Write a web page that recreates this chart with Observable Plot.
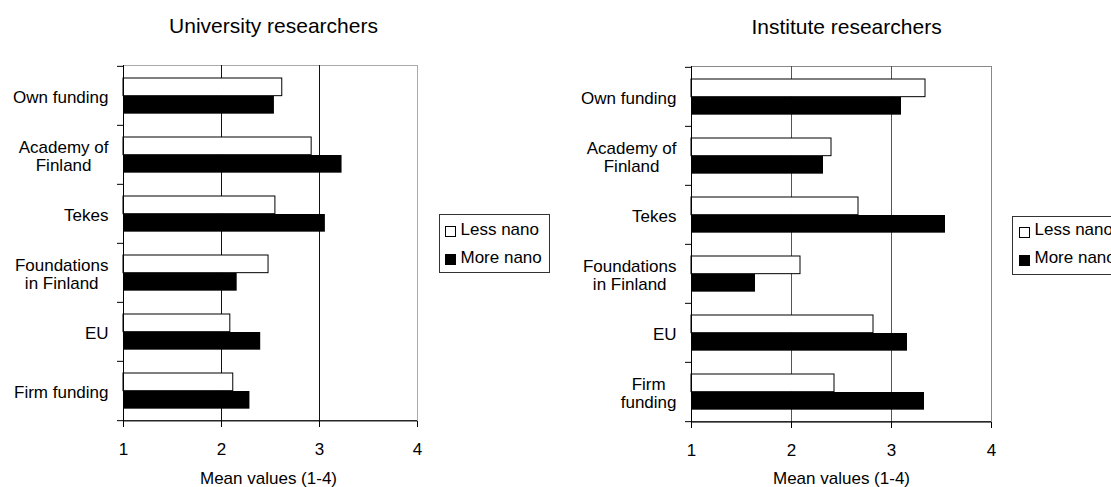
<!DOCTYPE html>
<html><head><meta charset="utf-8">
<script src="https://cdn.jsdelivr.net/npm/d3@7"></script>
<script src="https://cdn.jsdelivr.net/npm/@observablehq/plot@0.6"></script>
<style>
html,body{margin:0;padding:0;background:#fff;overflow:hidden;}
#root{position:relative;width:1111px;height:487px;overflow:hidden;background:#fff;font-family:"Liberation Sans",Arial,sans-serif;}
.chart{position:absolute;top:0;}
.legend{position:absolute;box-sizing:border-box;border:1px solid #333;background:#fff;height:59px;width:111px;}
.sw{position:absolute;box-sizing:border-box;width:11px;height:11px;border:1px solid #000;}
.lt{position:absolute;font-size:17px;line-height:20px;white-space:nowrap;color:#000;}
</style></head>
<body><div id="root"></div>
<script>
const categories = ["Own funding", "Academy of Finland", "Tekes", "Foundations in Finland", "EU", "Firm funding"];
const uniLabels = ["Own funding", "Academy of\nFinland", "Tekes", "Foundations\nin Finland", "EU", "Firm funding"];
const instLabels = ["Own funding", "Academy of\nFinland", "Tekes", "Foundations\nin Finland", "EU", "Firm\nfunding"];
const seriesNames = ["Less nano", "More nano"];
const uniLess = [2.62, 2.92, 2.55, 2.48, 2.09, 2.12];
const uniMore = [2.54, 3.23, 3.06, 2.16, 2.40, 2.29];
const instLess = [3.34, 2.40, 2.67, 2.09, 2.82, 2.43];
const instMore = [3.10, 2.32, 3.54, 1.64, 3.16, 3.33];
const xTicks = [1, 2, 3, 4];
const gridTicks = [2, 3];
const axisTitle = "Mean values (1-4)";
const titles = ["University researchers", "Institute researchers"];

const FONT = "'Liberation Sans', Arial, sans-serif";
const root = document.getElementById("root");

function makeChart(cfg) {
  const {title, labels, less, more, left, width, mL, mR, mT, mB, gridColor, frameColor, titleDx, titleDy, labelDx, labelDy} = cfg;
  const H = 487;
  const rows = categories.map((c, i) => ({cat: c, label: labels[i], less: less[i], more: more[i]}));
  const step = (H - mT - mB) / categories.length;
  const gTop = 12, barH = 18;
  const last = categories[categories.length - 1];
  const svg = Plot.plot({
    width, height: H,
    marginLeft: mL, marginRight: mR, marginTop: mT, marginBottom: mB,
    style: {fontFamily: FONT, fontSize: "17px", color: "#000", background: "transparent", overflow: "visible"},
    x: {domain: [1, 4], label: null},
    y: {domain: categories, padding: 0, label: null},
    marks: [
      Plot.frame({stroke: frameColor}),
      Plot.ruleX(gridTicks, {stroke: gridColor}),
      Plot.barX(rows, {y: "cat", x1: 1, x2: "less", fill: "white", stroke: "black", strokeWidth: 1,
        insetTop: gTop, insetBottom: step - gTop - barH}),
      Plot.barX(rows, {y: "cat", x1: 1, x2: "more", fill: "black",
        insetTop: gTop + barH, insetBottom: step - gTop - 2 * barH}),
      Plot.ruleX([1], {stroke: "black"}),
      Plot.ruleY([last], {stroke: "black", dy: step / 2}),
      Plot.axisX({ticks: xTicks, tickSize: 6, tickPadding: 15.5, fontSize: 17, label: null, tickFormat: d => String(d)}),
      Plot.axisY({tickSize: 6, tickFormat: () => "", dy: -step / 2, label: null}),
      Plot.axisY([last], {tickSize: 6, tickFormat: () => "", dy: step / 2, label: null}),
      Plot.text(rows, {y: "cat", text: "label", frameAnchor: "left", textAnchor: "end", dx: -15, dy: 1.5,
        lineAnchor: "middle", lineHeight: 1.02, fontSize: 17}),
      Plot.text([title], {frameAnchor: "top", lineAnchor: "top", dy: titleDy, dx: titleDx, fontSize: 21}),
      Plot.text([axisTitle], {frameAnchor: "bottom", lineAnchor: "top", dy: labelDy, dx: labelDx, fontSize: 17})
    ]
  });
  svg.classList.add("chart");
  svg.style.left = left + "px";
  root.appendChild(svg);
  // center multi-line category labels within their block (right edge kept)
  svg.querySelectorAll("text").forEach(t => {
    const tspans = t.querySelectorAll("tspan");
    if (tspans.length > 1) {
      const widths = Array.from(tspans, ts => ts.getComputedTextLength());
      const w = Math.max(...widths);
      t.setAttribute("text-anchor", "middle");
      t.style.textAnchor = "middle";
      tspans.forEach(ts => {
        const x0 = +(ts.getAttribute("x") || 0);
        ts.setAttribute("x", x0 - w / 2);
      });
    }
  });
}

makeChart({title: titles[0], labels: uniLabels, less: uniLess, more: uniMore,
  left: 0, width: 435, mL: 123, mR: 18, mT: 65, mB: 66,
  gridColor: "#111", frameColor: "#aaa", titleDx: 3, titleDy: -47.3, labelDx: -2, labelDy: 50.7});
makeChart({title: titles[1], labels: instLabels, less: instLess, more: instMore,
  left: 560, width: 451, mL: 131, mR: 20, mT: 66, mB: 65,
  gridColor: "#555", frameColor: "#888", titleDx: 5, titleDy: -47.7, labelDx: 0, labelDy: 49.4});

function makeLegend(left, top, rowTops, swTops, swLeft, txtLeft) {
  const box = document.createElement("div");
  box.className = "legend";
  box.style.left = left + "px";
  box.style.top = top + "px";
  const fills = ["#fff", "#000"];
  seriesNames.forEach((name, i) => {
    const sw = document.createElement("div");
    sw.className = "sw";
    sw.style.left = swLeft + "px";
    sw.style.top = swTops[i] + "px";
    sw.style.background = fills[i];
    box.appendChild(sw);
    const tx = document.createElement("div");
    tx.className = "lt";
    tx.style.left = txtLeft + "px";
    tx.style.top = rowTops[i] + "px";
    tx.textContent = name;
    box.appendChild(tx);
  });
  root.appendChild(box);
}
makeLegend(439, 214, [5.3, 33], [11, 39], 5, 20.5);
makeLegend(1012, 216, [3.3, 31], [10, 38], 6, 21.5);
</script>
</body></html>
